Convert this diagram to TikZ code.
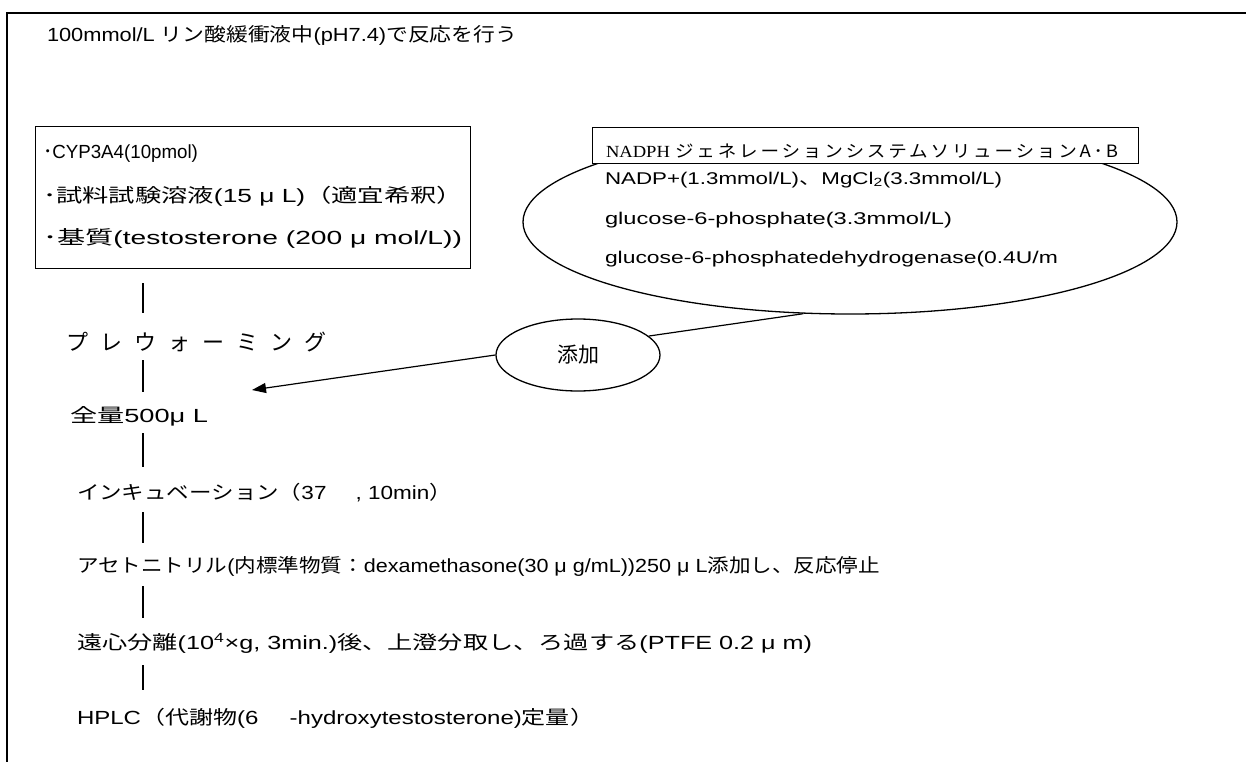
\documentclass[tikz,border=0pt]{standalone}
\usepackage{fontspec}
\usepackage{graphicx}
\setmainfont{Liberation Sans}
\newfontfamily\jp{Noto Sans CJK JP}
\newfontfamily\tms{Liberation Serif}
\newcommand\J[1]{{\jp #1}}
\newcommand\fitw[2]{\resizebox{#1}{\height}{#2}}
\usetikzlibrary{shapes.geometric,arrows.meta}
\begin{document}
\begin{tikzpicture}[x=1pt,y=-1pt,
  frame/.style={line width=2pt},
  boxline/.style={line width=1.3pt},
  conn/.style={line width=1.2pt},
  lbl/.style={anchor=west,inner sep=0pt,outer sep=0pt,font=\fontsize{19pt}{22pt}\selectfont},
  sm/.style={anchor=west,inner sep=0pt,outer sep=0pt,font=\fontsize{17pt}{20pt}\selectfont},
]
\useasboundingbox (0,0) rectangle (1246,762);
\clip (0,0) rectangle (1246,762);
\draw[frame] (7,13) rectangle (1300,800);

% title
\node[lbl] (title) at (47,35) {\fitw{470pt}{100mmol/L \J{リン酸緩衝液中}(pH7.4)\J{で反応を行う}}};

% left box
\node[draw,boxline,anchor=north west,minimum width=435pt,minimum height=142pt,inner sep=0pt] (box) at (35,126) {};
\node[lbl] (b1) at (43,154) {\fitw{155pt}{\J{･}CYP3A4(10pmol)}};
\node[lbl] (b2) at (43,196) {\fitw{420pt}{\J{･試料試験溶液}(15 μ L)\J{（適宜希釈）}}};
\node[lbl] (b3) at (43,238) {\fitw{419pt}{\J{･基質}(testosterone (200 μ mol/L))}};

% big ellipse with header box
\node[draw,ellipse,boxline,minimum width=654pt,minimum height=184pt,inner sep=0pt] (sol) at (850,222) {};
\node[draw,boxline,fill=white,anchor=north west,minimum width=546pt,minimum height=36pt,inner sep=0pt] (hdr) at (592,127) {};
\node[sm] (hdrt) at (606,151) {\fitw{512pt}{{\tms NADPH} \J{\addfontfeatures{LetterSpace=15}ジェネレーションシステムソリューションA･B}}};
\node[sm] (e1) at (605,180) {\fitw{397pt}{NADP+(1.3mmol/L)\J{、}MgCl\textsubscript{2}(3.3mmol/L)}};
\node[sm] (e2) at (605,220) {\fitw{347pt}{glucose-6-phosphate(3.3mmol/L)}};
\node[sm] (e3) at (605,259) {\fitw{453pt}{glucose-6-phosphatedehydrogenase(0.4U/m}};

% 添加
\node[draw,ellipse,boxline,minimum width=164pt,minimum height=72pt,inner sep=0pt,font=\jp\fontsize{21pt}{24pt}\selectfont] (tenka) at (578,355) {添加};
\coordinate (tip) at (252,390);
\draw[conn,-{Triangle[length=14pt,width=10pt]}] (tenka.west) -- (tip);
\draw[conn] (tenka.15) -- (sol.-117);

% flow rows
\node[lbl] (pre) at (66,342) {\J{\fontsize{22pt}{25pt}\selectfont\addfontfeatures{LetterSpace=55}プレウォーミング}};
\node[lbl] (zen) at (70,416) {\fitw{138pt}{\J{全量}500μ L}};
\node[lbl] (inc) at (77,493) {\fitw{375pt}{\J{インキュベーション（}37\hspace{1.3em}, 10min\J{）}}};
\node[lbl] (ace) at (77,566) {\fitw{803pt}{\J{アセトニトリル}(\J{内標準物質：}dexamethasone(30 μ g/mL))250 μ L\J{添加し、反応停止}}};
\node[lbl] (en) at (77,643) {\fitw{735pt}{\J{遠心分離}(10\textsuperscript{4}×g, 3min.)\J{後、上澄分取し、ろ過する}(PTFE 0.2 μ m)}};
\node[lbl] (hplc) at (77,718) {\fitw{517pt}{HPLC\J{（代謝物}(6\hspace{1.3em}-hydroxytestosterone)\J{定量）}}};

% vertical connectors
\coordinate (v1a) at (143,283); \coordinate (v1b) at (143,313);
\coordinate (v2a) at (143,360); \coordinate (v2b) at (143,392);
\coordinate (v3a) at (143,433); \coordinate (v3b) at (143,467);
\coordinate (v4a) at (143,512); \coordinate (v4b) at (143,543);
\coordinate (v5a) at (143,586); \coordinate (v5b) at (143,618);
\coordinate (v6a) at (143,665); \coordinate (v6b) at (143,690);
\draw[conn] (v1a) -- (v1b);
\draw[conn] (v2a) -- (v2b);
\draw[conn] (v3a) -- (v3b);
\draw[conn] (v4a) -- (v4b);
\draw[conn] (v5a) -- (v5b);
\draw[conn] (v6a) -- (v6b);
\end{tikzpicture}
\end{document}
